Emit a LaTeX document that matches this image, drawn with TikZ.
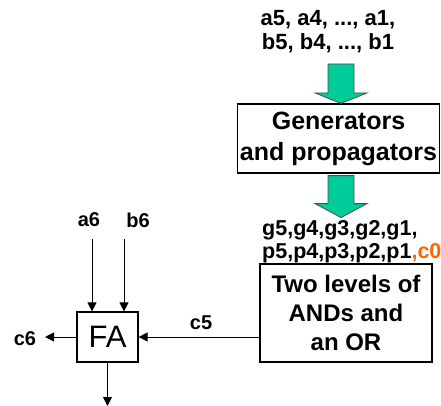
\documentclass[tikz,border=0pt]{standalone}
\usepackage{fontspec}
\setmainfont{Liberation Sans}
\usetikzlibrary{arrows.meta,calc}
\definecolor{arrgreen}{HTML}{00CC99}
\definecolor{corange}{HTML}{FF6600}
\tikzset{
  blockbox/.style={draw=black,line width=1.2pt,inner sep=0pt,align=center,font=\bfseries\fontsize{24}{29}\selectfont},
  lbl/.style={inner sep=0pt,font=\bfseries\fontsize{20}{24}\selectfont},
  wire/.style={line width=1pt,-{Triangle[length=9pt,width=9pt]}},
  fatarrow/.style={fill=arrgreen,draw=black!70,line width=0.8pt,line join=miter}
}
\begin{document}
\begin{tikzpicture}[x=1pt,y=-1pt]
\useasboundingbox (0,0) rectangle (441,406);
% top inputs text
\node[inner sep=0pt,align=center,font=\bfseries\fontsize{22}{24}\selectfont] (inp) at (328,32) {a5, a4, ..., a1,\\b5, b4, ..., b1};
% generators box
\node[blockbox,minimum width=202pt,minimum height=69pt,font=\bfseries\fontsize{25}{31}\selectfont] (gen) at (338.5,138.5) {Generators\\and propagators};
% gp text
\node[inner sep=0pt,align=left,anchor=west,font=\bfseries\fontsize{21.5}{23}\selectfont] (gp) at (262,242) {g5,g4,g3,g2,g1,\\p5,p4,p3,p2,p1\textcolor{corange}{,c0}};
% two levels box
\node[blockbox,minimum width=172pt,minimum height=98pt] (tl) at (346,313) {Two levels of\\ANDs and\\an OR};
% FA box
\node[draw=black,line width=1.2pt,minimum width=61pt,minimum height=50pt,inner sep=0pt,font=\fontsize{31}{31}\selectfont] (fa) at (107.5,337) {FA};
% labels
\node[lbl] (a6) at (89,220) {a6};
\node[lbl] (b6) at (138,220) {b6};
\node[lbl] (c5) at (201,323) {c5};
\node[lbl] (c6) at (25,339) {c6};
% coordinates
\coordinate (a6s) at (92,239);
\coordinate (b6s) at (124,239);
\coordinate (c6e) at (45,337);
\coordinate (se) at (108,406);
% green arrows
\coordinate (g1) at (341,64);
\draw[fatarrow] ($(g1)+(-13,0)$) -- ($(g1)+(13,0)$) -- ($(g1)+(13,29)$) -- ($(g1)+(26,29)$) -- (gen.north -| g1) -- ($(g1)+(-26,29)$) -- ($(g1)+(-13,29)$) -- cycle;
\coordinate (g2) at (gen.south -| g1);
\draw[fatarrow] ($(g2)+(-13,2)$) -- ($(g2)+(13,2)$) -- ($(g2)+(13,30)$) -- ($(g2)+(26,30)$) -- ($(g2)+(0,44)$) -- ($(g2)+(-26,30)$) -- ($(g2)+(-13,30)$) -- cycle;
% wires
\draw[wire] (a6s) -- (a6s |- fa.north);
\draw[wire] (b6s) -- (b6s |- fa.north);
\draw[wire] (fa.east -| tl.west) -- (fa.east);
\draw[wire] (fa.west) -- (c6e);
\draw[wire] (fa.south) -- (fa.south |- se);
\end{tikzpicture}
\end{document}
